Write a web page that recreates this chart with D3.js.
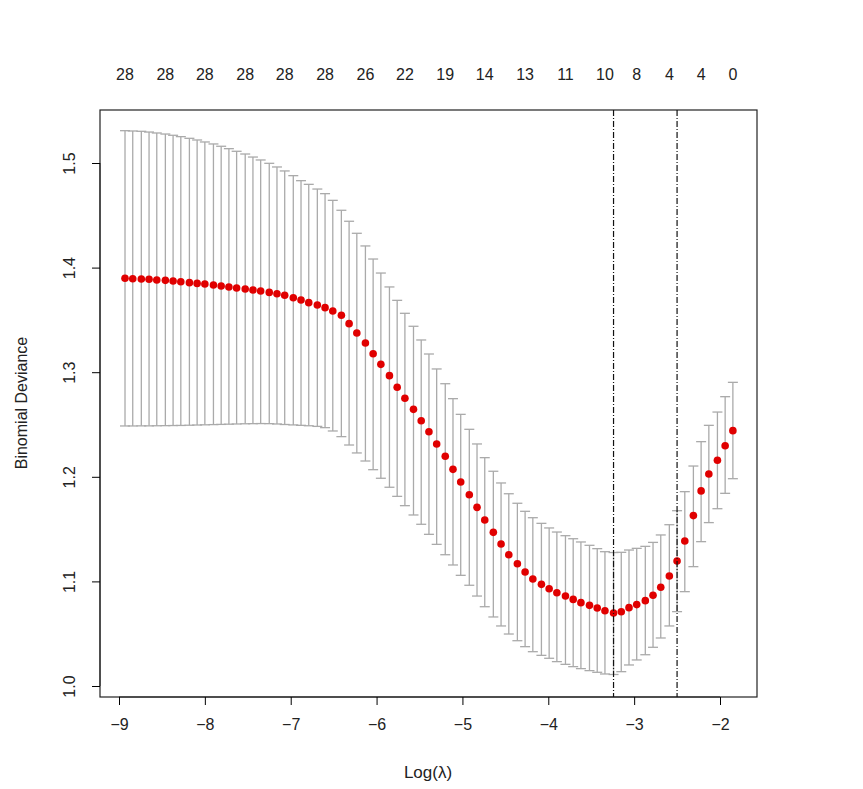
<!DOCTYPE html>
<html>
<head>
<meta charset="utf-8">
<script src="https://cdn.jsdelivr.net/npm/d3@7"></script>
<style>
body { margin: 0; background: #fff; }
text { font-family: "Liberation Sans", Arial, sans-serif; }
</style>
</head>
<body>
<svg id="chart" width="863" height="789"></svg>
<script>
// log(lambda) path of the cv fit
var logLambda = [-8.93,-8.84,-8.74,-8.65,-8.56,-8.46,-8.37,-8.28,-8.18,-8.09,
  -8.00,-7.90,-7.81,-7.72,-7.63,-7.53,-7.44,-7.35,-7.25,-7.16,
  -7.07,-6.97,-6.88,-6.79,-6.69,-6.60,-6.51,-6.41,-6.32,-6.23,
  -6.13,-6.04,-5.95,-5.85,-5.76,-5.67,-5.57,-5.48,-5.39,-5.30,
  -5.20,-5.11,-5.02,-4.92,-4.83,-4.74,-4.64,-4.55,-4.46,-4.36,
  -4.27,-4.18,-4.08,-3.99,-3.90,-3.80,-3.71,-3.62,-3.52,-3.43,
  -3.34,-3.24,-3.15,-3.06,-2.97,-2.87,-2.78,-2.69,-2.59,-2.50,
  -2.41,-2.31,-2.22,-2.13,-2.03,-1.94,-1.85];

var cvm = [1.3898,1.3894,1.3891,1.3888,1.3881,1.3878,1.3872,1.3865,1.3856,1.3849,
  1.3843,1.3834,1.3824,1.3815,1.3805,1.3796,1.3786,1.3776,1.3763,1.3750,
  1.3735,1.3712,1.3690,1.3665,1.3642,1.3617,1.3585,1.3544,1.3464,1.3375,
  1.3279,1.3177,1.3075,1.2967,1.2856,1.2751,1.2645,1.2536,1.2431,1.2314,
  1.2196,1.2071,1.1950,1.1829,1.1708,1.1587,1.1469,1.1358,1.1255,1.1169,
  1.1090,1.1023,1.0972,1.0930,1.0892,1.0860,1.0828,1.0797,1.0771,1.0746,
  1.0720,1.0698,1.0710,1.0749,1.0778,1.0816,1.0867,1.0944,1.1052,1.1195,
  1.1386,1.1629,1.1865,1.2027,1.2158,1.2297,1.2441];

var cvup = [1.5309,1.5306,1.5303,1.5296,1.5287,1.5277,1.5265,1.5252,1.5236,1.5220,
  1.5201,1.5182,1.5160,1.5137,1.5112,1.5086,1.5057,1.5029,1.4997,1.4962,
  1.4924,1.4879,1.4831,1.4796,1.4751,1.4707,1.4643,1.4548,1.4443,1.4328,
  1.4207,1.4082,1.3948,1.3815,1.3687,1.3563,1.3439,1.3308,1.3174,1.3031,
  1.2890,1.2747,1.2597,1.2454,1.2314,1.2183,1.2053,1.1941,1.1838,1.1747,
  1.1670,1.1609,1.1555,1.1511,1.1472,1.1437,1.1408,1.1377,1.1345,1.1313,
  1.1284,1.1276,1.1278,1.1300,1.1316,1.1335,1.1373,1.1444,1.1542,1.1676,
  1.1858,1.2103,1.2336,1.2492,1.2619,1.2766,1.2903];

var cvlo = [1.2486,1.2486,1.2487,1.2487,1.2488,1.2489,1.2490,1.2491,1.2493,1.2495,
  1.2497,1.2499,1.2501,1.2503,1.2505,1.2507,1.2508,1.2509,1.2508,1.2505,
  1.2500,1.2496,1.2492,1.2488,1.2482,1.2470,1.2438,1.2384,1.2304,1.2228,
  1.2151,1.2068,1.1986,1.1900,1.1813,1.1724,1.1635,1.1546,1.1450,1.1354,
  1.1255,1.1157,1.1058,1.0963,1.0860,1.0758,1.0660,1.0574,1.0497,1.0433,
  1.0376,1.0328,1.0293,1.0265,1.0233,1.0207,1.0185,1.0166,1.0147,1.0131,
  1.0115,1.0110,1.0137,1.0201,1.0249,1.0299,1.0370,1.0459,1.0574,1.0711,
  1.0902,1.1141,1.1380,1.1562,1.1695,1.1842,1.1982];

// number of non-zero coefficients shown on top axis
var topIdx = [0,5,10,15,20,25,30,35,40,45,50,55,60,64,68,72,76];
var topCounts = [28,28,28,28,28,28,26,22,19,14,13,11,10,8,4,4,0];

var xTicks = [-9,-8,-7,-6,-5,-4,-3,-2];
var yTicks = [1.0,1.1,1.2,1.3,1.4,1.5];
var lambdaMin = -3.24, lambda1se = -2.50;

var svg = d3.select("#chart");
var box = {left: 100, right: 757, top: 110, bottom: 697};

var x = d3.scaleLinear().domain([-9, -2]).range([119, 720]);
var y = d3.scaleLinear().domain([1.0, 1.5]).range([686, 163]);

svg.append("rect")
    .attr("x", box.left).attr("y", box.top)
    .attr("width", box.right - box.left).attr("height", box.bottom - box.top)
    .attr("fill", "none").attr("stroke", "#222").attr("stroke-width", 1.2);

// bottom axis
var gx = svg.append("g").attr("transform", "translate(0," + box.bottom + ")")
    .call(d3.axisBottom(x).tickValues(xTicks).tickSize(8).tickPadding(14)
        .tickFormat(function(d) { return d3.format("d")(d).replace("-", "\u2212"); }));
gx.select(".domain").attr("d", "M" + x(-9) + ",0H" + x(-2)).attr("stroke", "#222");
gx.selectAll("text").attr("font-size", 16).attr("fill", "#222");

// left axis
var gy = svg.append("g").attr("transform", "translate(" + box.left + ",0)")
    .call(d3.axisLeft(y).tickValues(yTicks).tickSize(8).tickFormat(d3.format(".1f")));
gy.select(".domain").attr("d", "M0," + y(1.0) + "V" + y(1.5)).attr("stroke", "#222");
gy.selectAll("text")
    .attr("font-size", 16).attr("fill", "#222")
    .attr("text-anchor", "middle")
    .attr("transform", "translate(-31,0) rotate(-90)")
    .attr("x", 0).attr("y", 0).attr("dy", "0.35em");

// top nzero labels
svg.selectAll("text.top").data(topIdx).enter().append("text")
    .attr("class", "top")
    .attr("x", function(d) { return x(logLambda[d]); })
    .attr("y", 80)
    .attr("text-anchor", "middle").attr("font-size", 16).attr("fill", "#222")
    .text(function(d, i) { return topCounts[i]; });

svg.append("text").attr("x", 428).attr("y", 778).attr("text-anchor", "middle")
    .attr("font-size", 17).attr("fill", "#222").text("Log(\u03bb)");
svg.append("text").attr("transform", "translate(27,403) rotate(-90)")
    .attr("text-anchor", "middle").attr("font-size", 16).attr("fill", "#222")
    .text("Binomial Deviance");

// error bars
var bars = svg.append("g").attr("stroke", "#aaa").attr("stroke-width", 1.3);
logLambda.forEach(function(l, i) {
    var cx = x(l);
    bars.append("line").attr("x1", cx).attr("x2", cx).attr("y1", y(cvup[i])).attr("y2", y(cvlo[i]));
    bars.append("line").attr("x1", cx - 5).attr("x2", cx + 5).attr("y1", y(cvup[i])).attr("y2", y(cvup[i]));
    bars.append("line").attr("x1", cx - 5).attr("x2", cx + 5).attr("y1", y(cvlo[i])).attr("y2", y(cvlo[i]));
});

// points
svg.append("g").selectAll("circle").data(cvm).enter().append("circle")
    .attr("cx", function(d, i) { return x(logLambda[i]); })
    .attr("cy", function(d) { return y(d); })
    .attr("r", 3.8).attr("fill", "#e00000");

// lambda.min and lambda.1se lines
[lambdaMin, lambda1se].forEach(function(l) {
    svg.append("line").attr("x1", x(l)).attr("x2", x(l))
        .attr("y1", box.top).attr("y2", box.bottom)
        .attr("stroke", "#111").attr("stroke-width", 1.2)
        .attr("stroke-dasharray", "6,2,1,2");
});
</script>
</body>
</html>
